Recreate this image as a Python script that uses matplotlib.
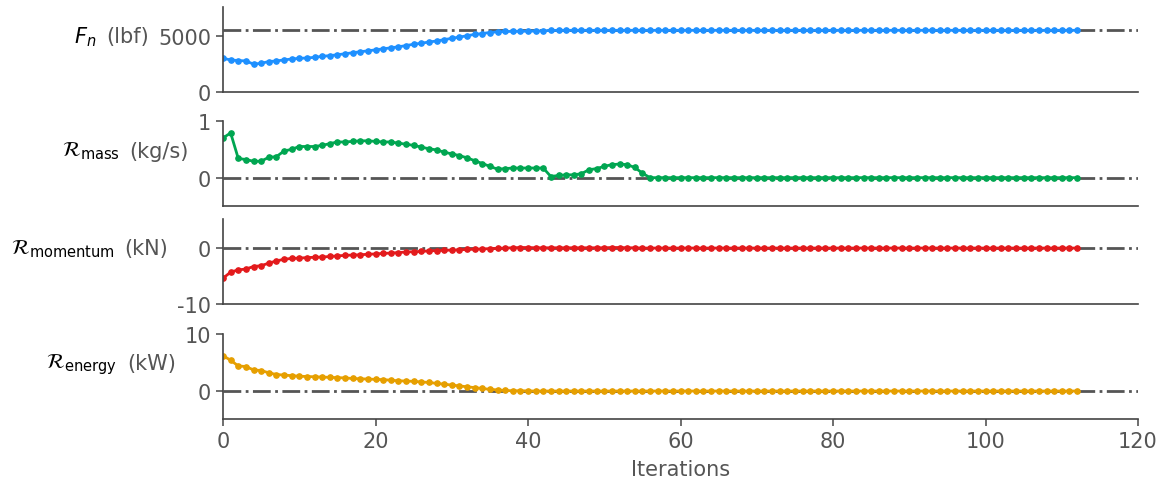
import numpy as np
import matplotlib
matplotlib.use("Agg")
import matplotlib.pyplot as plt

# data (iterations 0..112)
thrust = [3010, 2870, 2810, 2780, 2490, 2570, 2720, 2780, 2870, 2950,
          3010, 3040, 3100, 3190, 3250, 3330, 3420, 3510, 3600, 3680,
          3770, 3860, 3950, 4040, 4150, 4270, 4360, 4470, 4560, 4680,
          4800, 4910, 5030, 5150, 5230, 5320, 5380, 5410, 5420, 5430,
          5440, 5450, 5470, 5500] + [5515] * 69
thrust_target = 5530

res_mass = [0.70, 0.79, 0.34, 0.32, 0.29, 0.29, 0.36, 0.37, 0.47, 0.50,
            0.55, 0.55, 0.55, 0.57, 0.60, 0.63, 0.63, 0.64, 0.65, 0.65,
            0.64, 0.63, 0.63, 0.61, 0.59, 0.57, 0.54, 0.51, 0.49, 0.45,
            0.42, 0.39, 0.35, 0.30, 0.25, 0.20, 0.15, 0.16, 0.17, 0.17,
            0.17, 0.17, 0.17, 0.02, 0.04, 0.05, 0.05, 0.07, 0.14, 0.16,
            0.20, 0.23, 0.24, 0.23, 0.18, 0.08, 0.00] + [0.0] * 56

res_mom = [-5.4, -4.3, -3.9, -3.75, -3.3, -3.15, -2.7, -2.3, -2.0, -1.85,
           -1.8, -1.7, -1.65, -1.6, -1.5, -1.4, -1.3, -1.25, -1.2, -1.1,
           -1.05, -0.95, -0.9, -0.8, -0.7, -0.65, -0.6, -0.5, -0.45, -0.4,
           -0.35, -0.3, -0.25, -0.2, -0.15, -0.1, -0.05, 0.0, 0.05, 0.1,
           0.1, 0.05, 0.05, 0.05, 0.05, 0.05, 0.05, 0.05, 0.05, 0.05,
           0.05, 0.1, 0.1, 0.05, 0.05, 0.0] + [0.0] * 57

res_energy = [6.2, 5.4, 4.4, 4.3, 3.7, 3.6, 3.2, 2.9, 2.8, 2.7,
              2.6, 2.55, 2.5, 2.45, 2.4, 2.35, 2.3, 2.2, 2.15, 2.1,
              2.05, 2.0, 1.9, 1.8, 1.75, 1.7, 1.6, 1.5, 1.35, 1.2,
              1.05, 0.9, 0.75, 0.6, 0.45, 0.3, 0.2, 0.1, 0.05, 0.05,
              0.02] + [0.0] * 72

iters = np.arange(len(thrust))

series = [thrust, res_mass, res_mom, res_energy]
refs = [thrust_target, 0, 0, 0]
colors = ['#1e90ff', '#00a651', '#e31a1c', '#e69f00']
math_labels = [r'$F_n$', r'$\mathcal{R}_{\mathrm{mass}}$',
               r'$\mathcal{R}_{\mathrm{momentum}}$', r'$\mathcal{R}_{\mathrm{energy}}$']
units = ['(lbf)', '(kg/s)', '(kN)', '(kW)']
ylims = [(0, 7600), (-0.5, 1.0), (-10, 5.2), (-4.9, 10)]
yticks = [[0, 5000], [0, 1], [-10, 0], [0, 10]]
ytlabels = [['0', '5000'], ['0', '1'], ['-10', '0'], ['0', '10']]

W, H = 1164, 485
boxes = [(8, 93), (122, 207), (220, 305), (335, 420)]
gray = '#555555'
fs = 15

fig = plt.figure(figsize=(W / 100, H / 100), dpi=100)
for i in range(4):
    top, bot = boxes[i]
    ax = fig.add_axes([223 / W, 1 - bot / H, (1138 - 223) / W, (bot - top) / H])
    ax.axhline(refs[i], color=gray, lw=2, ls='-.', zorder=1)
    ax.plot(iters, series[i], color=colors[i], lw=2, marker='o', ms=3.8, zorder=2)
    ax.set_xlim(0, 120)
    ax.set_ylim(*ylims[i])
    ax.set_yticks(yticks[i])
    ax.set_yticklabels(ytlabels[i])
    for s in ['top', 'right']:
        ax.spines[s].set_visible(False)
    for s in ['left', 'bottom']:
        ax.spines[s].set_color('#444444')
        ax.spines[s].set_linewidth(1.2)
    ax.tick_params(colors=gray, labelsize=fs, width=1.2, length=5)
    if i < 3:
        ax.tick_params(axis='x', bottom=False, labelbottom=False)
    else:
        ax.set_xticks(range(0, 121, 20))
        ax.set_xlabel('Iterations', fontsize=fs, color=gray, labelpad=6)

    # label: black math + gray units, left of the tick labels
    fig.canvas.draw()
    tl_left = min(t.get_window_extent().x0 for t in ax.get_yticklabels())
    ux = tl_left - 9
    yc = H - (top + bot) / 2 + 13
    ut = fig.text(ux / W, yc / H, units[i], ha='right', va='center',
                  fontsize=fs, color=gray)
    ax.annotate(math_labels[i], xy=(0, 0.5), xycoords=ut, xytext=(-7, 0),
                textcoords='offset points', ha='right', va='center',
                fontsize=fs, color='black', annotation_clip=False)

fig.savefig('out.png', dpi=100)
